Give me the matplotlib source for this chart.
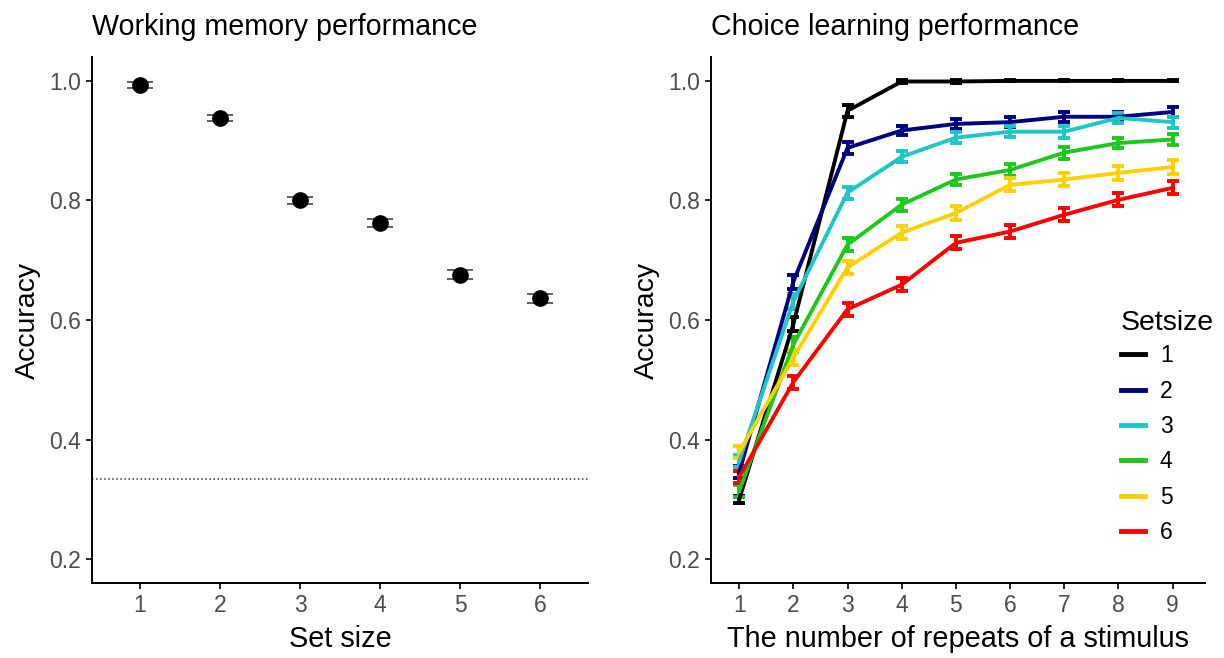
import matplotlib.pyplot as plt

plt.rcParams['font.family'] = ['Liberation Sans', 'DejaVu Sans']

# working memory panel
set_sizes = [1, 2, 3, 4, 5, 6]
wm_acc = [0.993, 0.938, 0.800, 0.762, 0.676, 0.636]
wm_se = [0.005, 0.005, 0.006, 0.007, 0.007, 0.007]
chance = 1 / 3

# choice learning panel
repeats = [1, 2, 3, 4, 5, 6, 7, 8, 9]
setsize_labels = ['1', '2', '3', '4', '5', '6']
setsize_colors = ['black', '#000080', '#20C5C5', '#1DC81D', '#FFD000', '#FF0000']
cl_acc = [
    [0.300, 0.593, 0.950, 0.999, 0.999, 1.000, 1.000, 1.000, 1.000],
    [0.345, 0.664, 0.888, 0.917, 0.928, 0.931, 0.940, 0.940, 0.948],
    [0.364, 0.631, 0.813, 0.873, 0.905, 0.915, 0.915, 0.938, 0.931],
    [0.314, 0.559, 0.726, 0.793, 0.835, 0.851, 0.880, 0.896, 0.902],
    [0.379, 0.537, 0.688, 0.746, 0.779, 0.826, 0.835, 0.846, 0.856],
    [0.337, 0.496, 0.618, 0.659, 0.729, 0.748, 0.776, 0.801, 0.821],
]
cl_se = [
    [0.006, 0.012, 0.010, 0.003, 0.002, 0.001, 0.001, 0.001, 0.001],
    [0.010, 0.012, 0.010, 0.008, 0.008, 0.008, 0.008, 0.008, 0.008],
    [0.010, 0.012, 0.010, 0.009, 0.009, 0.009, 0.010, 0.009, 0.009],
    [0.010, 0.012, 0.011, 0.010, 0.010, 0.010, 0.010, 0.009, 0.009],
    [0.010, 0.012, 0.011, 0.011, 0.011, 0.011, 0.011, 0.011, 0.011],
    [0.010, 0.011, 0.011, 0.011, 0.011, 0.011, 0.011, 0.011, 0.011],
]


def style(ax):
    for side in ['top', 'right']:
        ax.spines[side].set_visible(False)
    for side in ['left', 'bottom']:
        ax.spines[side].set_linewidth(1.4)
    ax.tick_params(width=1.2, length=4, pad=4, labelsize=16.5, labelcolor='#4D4D4D')
    ax.set_ylim(0.16, 1.04)
    ax.set_yticks([0.2, 0.4, 0.6, 0.8, 1.0])
    ax.set_yticklabels(['0.2', '0.4', '0.6', '0.8', '1.0'])
    ax.set_ylabel('Accuracy', fontsize=20.5, labelpad=6)


fig = plt.figure(figsize=(12.24, 6.58), dpi=100)
ax1 = fig.add_axes([0.0752, 0.114, 0.4052, 0.7994])
ax2 = fig.add_axes([0.5809, 0.114, 0.4036, 0.7994])

ax1.axhline(chance, color='#333333', linestyle=':', linewidth=1.1)
ax1.errorbar(set_sizes, wm_acc, yerr=wm_se, fmt='o', color='black',
             ecolor='#555555', elinewidth=1.3, capsize=9.5, capthick=1.3,
             markersize=11)
ax1.set_xlim(0.4, 6.6)
ax1.set_xticks(set_sizes)
ax1.set_xlabel('Set size', fontsize=20.8, labelpad=6)
ax1.set_title('Working memory performance', fontsize=20.6, loc='left', x=0.0, pad=16)
style(ax1)

for lab, col, acc, se in zip(setsize_labels, setsize_colors, cl_acc, cl_se):
    ax2.errorbar(repeats, acc, yerr=se, color=col, linewidth=2.8,
                 elinewidth=2.8, capsize=4, capthick=2.8, label=lab)
ax2.set_xlim(0.48, 9.6)
ax2.set_xticks(repeats)
ax2.set_xlabel('The number of repeats of a stimulus', fontsize=20.8, labelpad=6)
ax2.set_title('Choice learning performance', fontsize=20.6, loc='left', x=0.0, pad=16)
style(ax2)

handles = [plt.Line2D([], [], color=c, linewidth=3.5) for c in setsize_colors]
leg = ax2.legend(handles, setsize_labels, title='Setsize', frameon=False,
                 loc='center left', bbox_to_anchor=(0.899, 0.351),
                 bbox_transform=fig.transFigure, fontsize=16.5, title_fontsize=20.5,
                 handlelength=1.05, handletextpad=0.65, labelspacing=0.54)
leg._legend_box.align = 'left'
leg._legend_box.sep = 6

fig.savefig('out.png', dpi=100)
